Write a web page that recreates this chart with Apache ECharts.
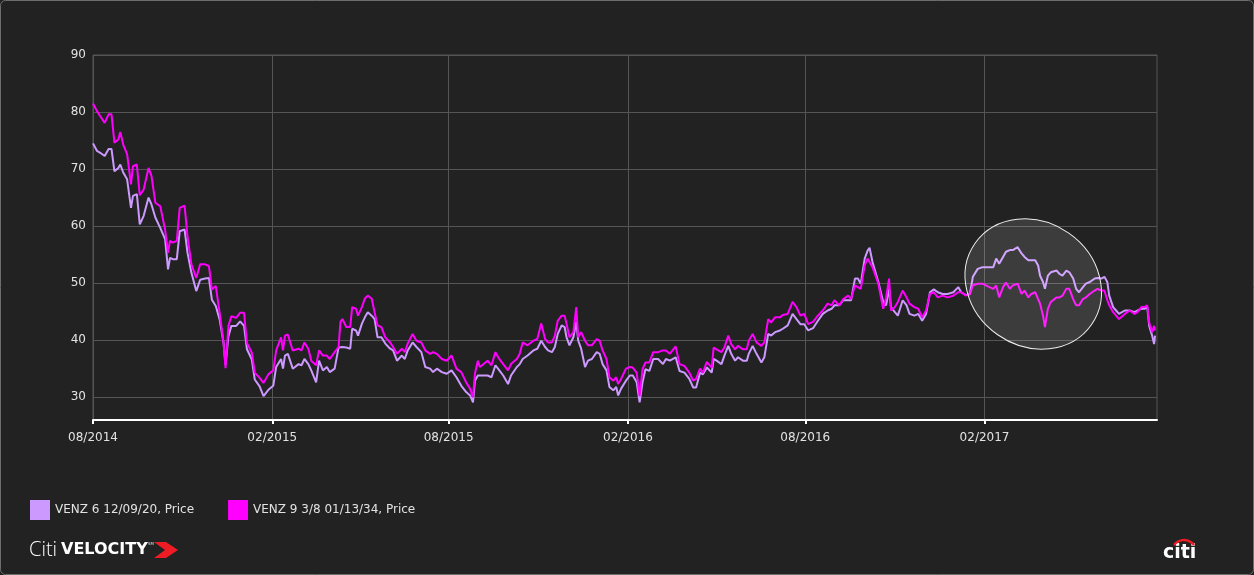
<!DOCTYPE html>
<html>
<head>
<meta charset="utf-8">
<script src="https://cdn.jsdelivr.net/npm/echarts@6/dist/echarts.min.js"></script>
<style>
html,body{margin:0;padding:0;background:#222222;}
#chart{width:1254px;height:575px;}
</style>
</head>
<body>
<div id="chart"></div>
<script>
// ---- data ----
const startDate = '2014-08-01';
const endDate = '2017-07-28';
const tickDates = ['2014-08-01','2015-02-01','2015-08-01','2016-02-01','2016-08-01','2017-02-01'];
const yTickValues = [30, 40, 50, 60, 70, 80, 90];
const seriesNames = ['VENZ 6 12/09/20, Price', 'VENZ 9 3/8 01/13/34, Price'];

// days since 2014-08-01
const days = [
  0,4,7,12,16,19,22,26,28,31,35,39,41,45,48,52,57,60,64,69,74,77,79,82,86,89,94,97,101,106,110,115,119,122,126,130,134,136,139,142,147,151,155,158,163,166,171,175,180,
  185,188,193,195,197,200,202,205,211,214,217,221,224,229,232,236,240,243,248,252,254,256,260,264,266,270,272,276,279,282,286,289,292,296,300,305,308,312,317,320,323,328,332,337,341,346,349,353,358,363,368,
  370,373,378,383,387,390,392,395,397,400,405,409,413,417,421,426,429,435,438,441,446,452,456,460,464,467,471,474,477,481,484,486,489,493,496,498,501,505,508,512,517,520,523,527,530,534,537,539,542,547,551,
  554,558,561,564,567,571,575,580,585,588,592,598,602,607,612,616,619,623,626,630,635,637,640,645,648,652,655,659,662,667,671,673,677,681,686,689,693,696,700,705,708,713,718,722,726,730,734,739,
  744,749,754,758,761,766,770,775,778,782,785,788,792,795,797,800,806,811,814,817,819,823,826,831,835,838,843,847,851,855,859,863,867,872,877,883,888,891,896,900,903,908,913,920,
  924,927,930,934,937,941,944,949,953,956,960,963,967,970,972,975,977,980,983,989,992,995,999,1002,1006,1009,1012,1016,1019,1023,1028,1031,1035,1038,1041,1043,1047,1050,1053,1059,1064,1069,1072,1076,1079,1082,1084,1087,1089,1090
];

// VENZ 6 12/09/20 (lavender)
const venz2020 = [
  74.5,73.2,72.9,72.3,73.5,73.5,69.6,70.2,70.8,69.4,68.2,63.2,65.3,65.6,60.3,61.8,65.0,63.8,61.5,59.7,57.7,52.4,54.4,54.2,54.2,59.1,59.4,55.3,51.8,48.6,50.6,50.8,50.9,47.1,46.0,43.6,39.5,35.7,40.7,42.5,42.5,43.3,42.5,38.4,36.6,33.1,31.9,30.2,31.3,
  32.0,35.3,36.7,35.0,37.3,37.6,37.3,35.0,35.8,35.6,36.7,35.8,34.7,32.6,36.4,34.7,35.3,34.4,35.0,38.7,38.5,38.8,38.7,38.5,42.0,41.7,40.8,42.9,44.0,44.9,44.3,43.7,40.5,40.5,39.4,38.5,38.2,36.4,37.3,36.7,38.2,39.6,38.8,37.9,35.3,35.0,34.4,35.0,34.4,34.1,34.7,
  34.4,33.5,32.0,30.9,30.3,29.1,32.9,33.8,33.5,33.8,33.8,33.5,35.6,34.7,33.8,32.3,33.8,35.3,35.8,36.7,37.3,38.2,38.5,39.9,38.8,38.2,37.9,38.8,41.1,42.6,42.3,40.5,39.1,40.5,43.2,39.9,38.5,35.3,36.4,36.7,37.9,37.6,35.8,34.7,31.8,31.2,31.8,30.3,31.5,32.9,33.8,
  33.8,32.6,29.1,32.6,34.9,34.6,36.7,36.7,35.8,36.7,36.4,37.0,34.6,34.3,33.2,31.7,31.7,34.3,34.0,35.2,34.3,36.7,36.4,35.8,37.3,39.0,37.6,36.4,37.0,36.4,36.4,37.6,39.0,37.6,36.1,37.0,41.1,40.8,41.4,41.7,42.0,42.6,44.6,43.7,42.8,42.8,41.7,42.1,
  43.4,44.6,45.2,45.5,46.1,46.1,47.0,47.0,47.0,50.8,50.8,49.9,54.3,55.7,56.2,53.7,50.2,46.7,46.1,49.0,45.8,44.9,44.3,47.0,46.1,44.6,44.3,44.6,43.4,44.6,48.4,48.9,48.4,48.1,48.1,48.4,49.3,48.4,47.9,48.1,51.1,52.5,52.8,52.8,
  52.8,54.3,53.4,54.6,55.5,55.8,55.8,56.3,55.2,54.6,54.0,54.0,54.0,53.1,51.3,50.2,49.0,51.3,51.9,52.2,51.6,51.3,52.2,51.9,50.8,49.0,48.4,49.3,49.9,50.2,50.8,50.9,50.8,51.1,50.2,47.8,45.8,45.2,44.6,45.2,45.2,44.9,45.2,45.5,45.5,45.8,42.5,40.8,39.3,40.8
];

// VENZ 9 3/8 01/13/34 (magenta)
const venz2034 = [
  81.5,80.2,79.4,78.1,79.6,79.6,74.6,75.2,76.5,74.3,72.6,67.3,70.5,70.8,65.4,66.4,70.2,68.8,64.1,63.5,59.4,55.3,57.4,57.1,57.4,63.2,63.6,58.2,53.3,50.9,53.3,53.3,53.0,48.9,49.5,44.8,39.5,35.1,42.5,44.2,43.9,44.8,44.8,39.5,37.8,34.3,33.4,32.5,34.0,
  34.7,38.2,40.5,38.2,40.8,41.0,40.8,38.2,38.5,38.2,39.6,38.5,36.4,35.6,38.2,37.3,37.3,36.7,37.9,38.8,43.2,43.7,42.3,42.3,45.8,45.5,44.3,45.8,47.3,47.8,47.3,44.9,42.6,42.3,40.5,39.6,38.8,37.6,38.5,37.9,39.4,41.1,39.9,39.6,38.2,37.6,37.9,37.6,36.7,36.4,37.3,
  36.4,35.0,34.4,32.6,31.5,30.0,34.1,36.4,35.3,35.7,36.4,35.6,37.9,36.7,35.8,34.7,35.8,36.7,37.6,39.6,39.1,39.9,40.2,42.9,40.2,39.6,39.6,40.8,43.4,44.3,44.3,42.9,40.5,41.4,45.8,40.5,41.4,39.9,39.1,39.1,40.2,39.9,38.2,36.7,33.5,32.9,33.5,32.3,33.2,35.0,35.3,
  35.2,34.3,30.2,34.9,36.1,36.1,37.9,37.9,38.2,38.2,37.6,38.9,35.8,35.5,34.3,32.9,33.2,35.0,34.3,36.2,35.2,38.7,38.4,37.9,38.7,40.8,39.3,38.4,39.0,38.4,38.4,39.9,41.1,39.6,39.0,39.6,43.7,43.1,44.0,44.0,44.4,44.6,46.7,45.8,44.3,44.6,42.8,43.2,
  44.3,45.2,46.4,46.1,47.0,46.1,47.2,47.8,47.2,49.6,49.3,49.0,53.1,54.3,54.6,52.8,49.9,45.5,47.5,50.8,45.2,45.8,46.7,48.7,47.5,46.4,45.8,45.5,44.0,45.2,48.1,48.4,47.5,47.8,47.5,47.8,48.4,48.4,47.8,48.1,49.6,49.9,49.9,49.3,
  49.0,49.6,47.5,49.3,50.1,49.0,49.6,49.9,48.1,48.7,47.5,48.1,48.4,47.2,46.4,44.3,42.3,45.5,46.7,47.5,47.5,47.8,49.0,49.0,47.2,46.1,46.1,47.2,47.5,48.1,48.7,49.0,48.7,48.7,47.0,46.1,44.9,44.3,43.7,44.6,45.2,44.6,44.9,45.8,45.8,46.1,43.1,41.4,42.5,41.7
];

// highlighted region (annotation) centre, in data terms
const highlightDate = '2017-03-23';
const highlightValue = 49.85;

// ---- build ----
function fmt(d) {
  const m = String(d.getUTCMonth() + 1).padStart(2, '0');
  const dd = String(d.getUTCDate()).padStart(2, '0');
  return d.getUTCFullYear() + '-' + m + '-' + dd;
}
const categories = [];
{
  const s = new Date(startDate + 'T00:00:00Z');
  const e = new Date(endDate + 'T00:00:00Z');
  for (let t = s.getTime(); t <= e.getTime(); t += 86400000) categories.push(fmt(new Date(t)));
}
const isTick = (idx, val) => tickDates.indexOf(val) >= 0;

const FONT = 'DejaVu Sans';
const chart = echarts.init(document.getElementById('chart'), null, { renderer: 'canvas' });

const option = {
  animation: false,
  backgroundColor: '#222222',
  grid: { left: 93, right: 97, top: 55, bottom: 155, show: true, borderColor: '#555555', borderWidth: 1, backgroundColor: 'transparent' },
  legend: {
    left: 30, top: 500, padding: 0, icon: 'rect', itemWidth: 20, itemHeight: 20, itemGap: 34,
    selectedMode: false,
    textStyle: { color: '#e2e2e2', fontSize: 12, fontFamily: FONT },
    data: seriesNames
  },
  xAxis: {
    type: 'category', data: categories, boundaryGap: false,
    axisLine: { show: true, lineStyle: { color: '#ffffff', width: 2 } },
    axisTick: { show: true, interval: isTick, length: 4, lineStyle: { color: '#ffffff', width: 2 } },
    axisLabel: {
      interval: isTick, color: '#e2e2e2', fontSize: 12, fontFamily: FONT, margin: 12,
      formatter: v => v.slice(5, 7) + '/' + v.slice(0, 4)
    },
    splitLine: { show: true, interval: isTick, lineStyle: { color: '#555555', width: 1 } }
  },
  yAxis: {
    type: 'value', min: 26, max: 90,
    axisLine: { show: false }, axisTick: { show: false },
    axisLabel: {
      color: '#e2e2e2', fontSize: 12, fontFamily: FONT, margin: 7,
      formatter: v => (yTickValues.indexOf(v) >= 0 ? String(v) : '')
    },
    splitLine: { show: true, lineStyle: { color: '#555555', width: 1 } }
  },
  series: [
    {
      name: seriesNames[0], type: 'line', showSymbol: false, symbol: 'none',
      data: days.map((d, i) => [d, venz2020[i]]),
      lineStyle: { color: '#cc99ff', width: 2 }, itemStyle: { color: '#cc99ff' },
      emphasis: { disabled: true }, z: 2
    },
    {
      name: seriesNames[1], type: 'line', showSymbol: false, symbol: 'none',
      data: days.map((d, i) => [d, venz2034[i]]),
      lineStyle: { color: '#ff00ff', width: 2 }, itemStyle: { color: '#ff00ff' },
      emphasis: { disabled: true }, z: 3
    }
  ]
};
chart.setOption(option);

const c = chart.convertToPixel({ xAxisIndex: 0, yAxisIndex: 0 }, [categories.indexOf(highlightDate), highlightValue]);

chart.setOption({
  graphic: [
    {
      type: 'rect', silent: true, z: 0,
      shape: { x: 0.5, y: 0.5, width: 1253, height: 574, r: 5 },
      style: { fill: 'none', stroke: '#6e6e6e', lineWidth: 1 }
    },
    {
      type: 'ellipse', silent: true, z: 100,
      x: c[0], y: c[1], rotation: -35 * Math.PI / 180,
      shape: { cx: 0, cy: 0, rx: 71, ry: 62 },
      style: { fill: 'rgba(255,255,255,0.12)', stroke: '#eeeeee', lineWidth: 1 }
    },
    {
      type: 'text', silent: true, z: 100, x: 29, y: 550,
      style: { text: 'Citi', font: '300 20px "Open Sans"', fill: '#ffffff', verticalAlign: 'middle' }
    },
    {
      type: 'text', silent: true, z: 100, x: 61, y: 550,
      style: { text: 'VELOCITY', font: 'bold 16px "DejaVu Sans"', fill: '#ffffff', verticalAlign: 'middle' }
    },
    {
      type: 'text', silent: true, z: 100, x: 148, y: 544,
      style: { text: 'SM', font: '4px "DejaVu Sans"', fill: '#dddddd', verticalAlign: 'middle' }
    },
    {
      type: 'polygon', silent: true, z: 100,
      shape: { points: [[154, 542], [166, 542], [178, 550], [166, 558], [154, 558], [165, 550]] },
      style: { fill: '#ee1c25' }
    },
    {
      type: 'text', silent: true, z: 100, x: 1163, y: 553,
      style: { text: 'citi', font: 'bold 19px "DejaVu Sans"', fill: '#ffffff', verticalAlign: 'middle' }
    },
    {
      type: 'arc', silent: true, z: 100,
      shape: { cx: 1184, cy: 552.5, r: 12.5, startAngle: -143 * Math.PI / 180, endAngle: -37 * Math.PI / 180, clockwise: true },
      style: { stroke: '#ee1c25', lineWidth: 2.5, fill: 'none' }
    }
  ]
});
</script>
</body>
</html>
